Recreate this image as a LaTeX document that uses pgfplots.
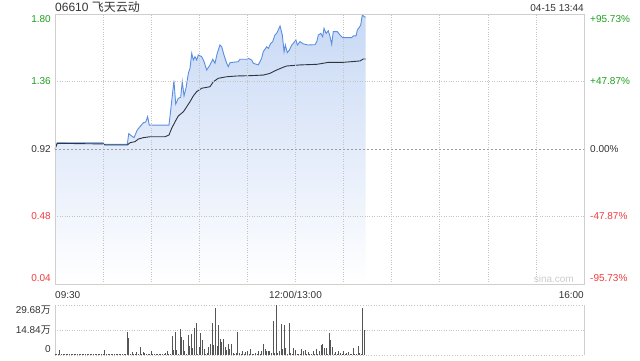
\documentclass[border=0pt]{standalone}
\usepackage{pgfplots}
\usepackage{pgfplotstable}
\pgfplotsset{compat=1.18}
\usepackage{fontspec}
\setmainfont{Liberation Sans}
\newfontfamily\cjk{Noto Sans CJK SC}
\definecolor{pricebl}{HTML}{5A8EE0}
\definecolor{avgln}{HTML}{2E3440}
\definecolor{fillTop}{HTML}{C8D9F5}
\definecolor{fillBot}{HTML}{FFFFFF}
\definecolor{upg}{HTML}{1EA01E}
\definecolor{dnr}{HTML}{F03C3C}
\definecolor{txt}{HTML}{333333}
\definecolor{gridc}{HTML}{C4C4C4}
\definecolor{bord}{HTML}{CFCFCF}
\definecolor{volc}{HTML}{555555}

\pgfplotstableread{
m p
0 0.92
1.4 0.96
30.1 0.96
30.6 0.95
45.1 0.95
46 1.02
47.8 1.005
49.3 0.994
51.3 1.044
53 1.065
55.1 1.091
56.6 1.096
57.8 1.131
58.8 1.076
71.1 1.076
72.2 1.174
74.2 1.365
75.3 1.213
76.9 1.25
78.4 1.257
79.4 1.359
80.5 1.266
81.7 1.316
83.2 1.414
84.2 1.446
85.3 1.544
86.3 1.50
87.3 1.522
88.4 1.50
89.4 1.533
91.5 1.522
93 1.489
94.6 1.435
96.7 1.468
98.4 1.505
99.8 1.479
101.2 1.544
102.9 1.598
104 1.587
105.4 1.533
107.1 1.479
108.1 1.457
109.2 1.483
114.3 1.489
115.4 1.505
119.6 1.505
120.6 1.511
122.7 1.50
123.7 1.479
126.8 1.468
128.9 1.511
129.9 1.554
132.1 1.587
133.1 1.576
134.6 1.609
135.8 1.62
137.2 1.663
138.3 1.674
140.4 1.722
141.8 1.663
142.9 1.554
143.7 1.598
144.9 1.548
146.2 1.565
147.7 1.598
148.7 1.609
150.3 1.631
151.2 1.598
152.8 1.62
154.9 1.605
158 1.598
162.2 1.60
163.3 1.62
164.3 1.663
165.8 1.674
167 1.652
167.8 1.707
169.1 1.674
170.5 1.691
171.6 1.652
172.6 1.603
173.6 1.685
176.1 1.685
177.8 1.663
179.5 1.646
185.1 1.646
186.1 1.657
187.8 1.657
188.6 1.696
189.8 1.713
190.7 1.728
191.7 1.794
193 1.782
193.8 1.779
}\pricetab

\pgfplotstableread{
m a
0 0.92
1.4 0.957
30.1 0.953
31.2 0.946
45.1 0.946
46.8 0.961
49.9 0.968
52 0.985
55.1 0.994
59.3 1.0
68.6 1.0
71.1 1.011
72.8 1.055
74.9 1.098
76.9 1.135
80.1 1.163
82.2 1.196
84.2 1.228
86.3 1.266
88.4 1.294
91.5 1.316
96.7 1.326
98.8 1.359
101.9 1.381
107.1 1.391
113.4 1.396
121.6 1.398
129.9 1.402
134.1 1.413
138.3 1.435
142.4 1.453
144.5 1.461
152.8 1.468
163.3 1.472
167.4 1.479
170.5 1.485
179.9 1.485
190.3 1.494
192.3 1.507
193.8 1.507
}\avgtab

\pgfplotstableread{
m v
0 0.6
1 0.4
2 0.4
3 3.0
4 0.4
5 0.3
6 0.5
7 0.3
8 0.4
9 0.3
10 0.4
11 0.3
12 0.5
13 0.3
14 0.4
15 0.3
16 0.4
17 0.3
18 0.5
19 0.3
20 0.4
21 0.3
22 0.4
23 0.3
24 0.4
25 0.3
26 0.4
27 0.3
28 0.4
29 0.3
30 0.5
31 3.0
32 0.4
33 0.3
34 0.5
35 0.3
36 0.4
37 0.3
38 0.4
39 0.3
40 0.4
41 0.3
42 0.4
43 0.3
44 0.5
45 13.5
46 9.9
47 0.6
48 1.5
49 0.5
50 0.8
51 2.0
52 0.6
53 4.9
54 0.8
55 1.8
56 1.2
57 0.5
58 0.6
59 0.4
60 2.4
61 0.4
62 0.3
63 0.5
64 0.4
65 0.3
66 0.5
67 0.4
68 0.6
69 1.0
70 2.4
71 0.8
72 0.6
73 11.3
74 3.0
75 13.7
76 3.0
77 0.8
78 15.2
79 10.9
80 8.9
81 2.6
82 0.8
83 11.7
84 5.3
85 12.5
86 4.2
87 16.0
88 18.8
89 0.8
90 4.6
91 12.9
92 8.9
93 3.4
94 0.6
95 1.4
96 4.6
97 6.5
98 19.2
99 5.7
100 27.9
101 5.3
102 17.8
103 9.3
104 7.9
105 9.7
106 4.9
107 3.0
108 6.5
109 3.8
110 6.5
111 1.0
112 0.5
113 1.4
114 13.9
115 1.4
116 0.5
117 2.2
118 0.6
119 1.8
120 2.2
121 0.6
122 3.4
123 0.5
124 0.8
125 1.4
126 0.5
127 2.6
128 0.7
129 2.6
130 6.5
131 3.8
132 2.6
133 2.6
134 2.4
135 1.0
136 20.2
137 1.2
138 29.68
139 1.0
140 2.4
141 18.6
142 3.4
143 17.6
144 4.0
145 0.8
146 19.0
147 1.0
148 0.6
149 4.2
150 3.0
151 0.8
152 0.6
153 0.8
154 3.4
155 2.6
156 3.0
157 0.6
158 1.8
159 0.6
160 0.5
161 2.6
162 0.6
163 3.4
164 0.8
165 2.6
166 6.1
167 6.5
168 4.2
169 4.2
170 0.8
171 13.3
172 8.9
173 4.9
174 0.8
175 2.0
176 0.8
177 2.4
178 1.0
179 0.7
180 2.6
181 0.6
182 1.0
183 1.6
184 0.6
185 0.6
186 4.2
187 0.8
188 0.8
189 5.3
190 1.2
191 0.8
192 27.9
193 14.8
}\voltab

\begin{document}
\begin{tikzpicture}[x=1pt,y=1pt]
\useasboundingbox (0,0) rectangle (640,360);
\fontsize{10}{12}\selectfont
% ---------------- main price axis ----------------
\begin{axis}[
  at={(55pt,76pt)}, anchor=south west,
  scale only axis, width=529pt, height=270pt,
  xmin=0, xmax=330, ymin=0.04, ymax=1.80,
  axis on top,
  axis line style={draw=bord, line width=0.8pt},
  xtick={30,60,90,120,150,180,210,240,270,300},
  ytick={0.48,1.36},
  extra y ticks={0.92},
  extra y tick labels={},
  extra y tick style={grid=major, major grid style={draw=gridc!80!black, dash pattern=on 2pt off 2pt, line width=0.6pt}},
  xticklabels={}, yticklabels={},
  major tick length=0pt,
  grid=major,
  major grid style={draw=gridc, dotted, line width=0.6pt},
  clip mode=individual,
]
\addplot[draw=none, top color=fillTop, bottom color=fillBot] table[x=m,y=p] {\pricetab} \closedcycle;
\addplot[pricebl, line width=0.9pt] table[x=m,y=p] {\pricetab};
\addplot[avgln, line width=0.9pt] table[x=m,y=a] {\avgtab};

% left labels
\node[anchor=north east, inner sep=0pt, text=upg, xshift=-4pt, yshift=-1.5pt] at (rel axis cs:0,1) {1.80};
\node[anchor=east, inner sep=0pt, text=upg, xshift=-4pt] at (axis cs:0,1.36) {1.36};
\node[anchor=east, inner sep=0pt, text=txt, xshift=-4pt] at (axis cs:0,0.92) {0.92};
\node[anchor=east, inner sep=0pt, text=dnr, xshift=-4pt] at (axis cs:0,0.48) {0.48};
\node[anchor=south east, inner sep=0pt, text=dnr, xshift=-4pt, yshift=2pt] at (rel axis cs:0,0) {0.04};
% right labels
\node[anchor=north west, inner sep=0pt, text=upg, xshift=6pt, yshift=-1.5pt] at (rel axis cs:1,1) {+95.73\%};
\node[anchor=west, inner sep=0pt, text=upg, xshift=6pt] at (axis cs:330,1.36) {+47.87\%};
\node[anchor=west, inner sep=0pt, text=txt, xshift=6pt] at (axis cs:330,0.92) {0.00\%};
\node[anchor=west, inner sep=0pt, text=dnr, xshift=6pt] at (axis cs:330,0.48) {-47.87\%};
\node[anchor=south west, inner sep=0pt, text=dnr, xshift=6pt, yshift=2pt] at (rel axis cs:1,0) {-95.73\%};
% time labels
\node[anchor=north west, inner sep=0pt, text=txt, yshift=-7pt] at (rel axis cs:0,0) {09:30};
\node[anchor=north, inner sep=0pt, text=txt, yshift=-7pt] at (axis cs:150,0.04) {12:00/13:00};
\node[anchor=north east, inner sep=0pt, text=txt, yshift=-7pt] at (rel axis cs:1,0) {16:00};
% title
\node[anchor=base west, inner sep=0pt, text=txt, yshift=3pt, font=\fontsize{12}{14}\selectfont] at (rel axis cs:0,1) {06610 {\cjk 飞天云动}};
\node[anchor=base east, inner sep=0pt, text=txt, yshift=3pt] at (rel axis cs:1,1) {04-15 13:44};
% watermark
\node[anchor=south east, inner sep=0pt, text=black!20, xshift=-10pt, yshift=1.5pt] at (rel axis cs:1,0) {sina.com};
\end{axis}

% ---------------- volume axis ----------------
\begin{axis}[
  at={(55pt,5pt)}, anchor=south west,
  scale only axis, width=529pt, height=50pt,
  xmin=0, xmax=330, ymin=0, ymax=29.68,
  axis line style={draw=none},
  xtick=\empty, ytick={14.84},
  yticklabels={}, major tick length=0pt,
  ymajorgrids,
  major grid style={draw=gridc, dotted, line width=0.7pt},
  clip mode=individual,
]
\draw[bord, line width=0.8pt] (rel axis cs:0,0) -- (rel axis cs:0,1);
\draw[bord, line width=0.8pt] (rel axis cs:1,0) -- (rel axis cs:1,1);
\draw[gridc, dotted, line width=0.7pt] (rel axis cs:0,1) -- (rel axis cs:1,1);
\draw[gridc, dotted, line width=0.7pt] (rel axis cs:0,0) -- (rel axis cs:1,0);
\addplot[ycomb, volc, line width=0.8pt, mark=none] table[x=m,y=v] {\voltab};
\node[anchor=north east, inner sep=0pt, text=txt, xshift=-4pt, yshift=-1pt] at (rel axis cs:0,1) {29.68{\cjk 万}};
\node[anchor=east, inner sep=0pt, text=txt, xshift=-4pt] at (axis cs:0,14.84) {14.84{\cjk 万}};
\node[anchor=south east, inner sep=0pt, text=txt, xshift=-4pt, yshift=2pt] at (rel axis cs:0,0) {0};
\end{axis}
\end{tikzpicture}
\end{document}
